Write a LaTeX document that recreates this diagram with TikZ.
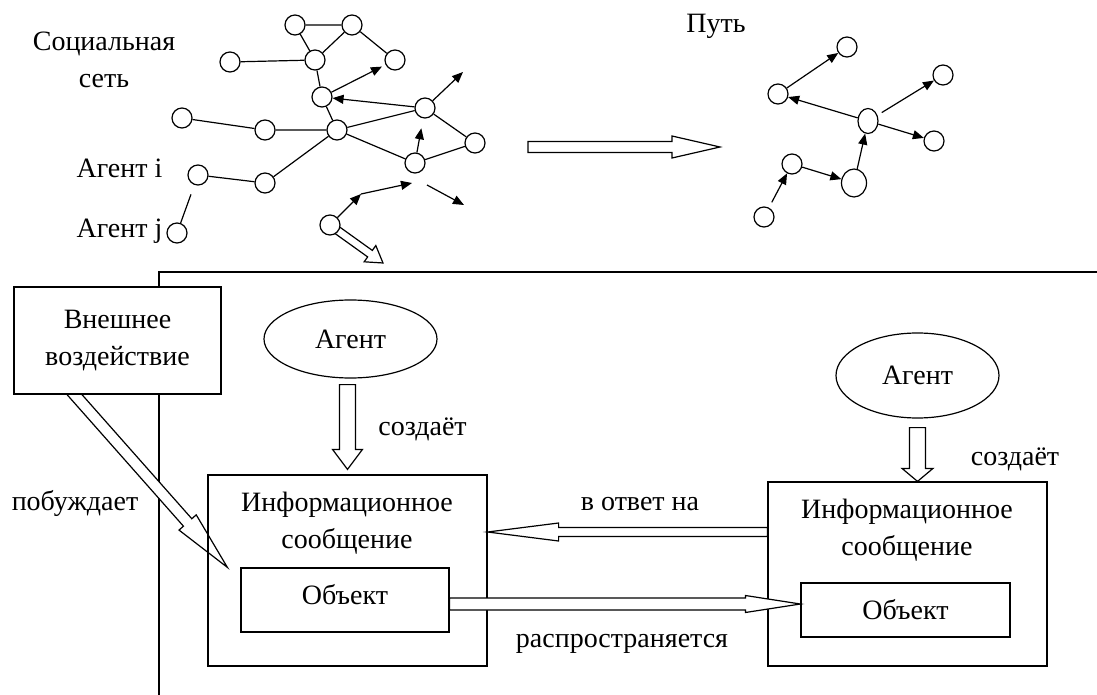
\documentclass[tikz,border=0pt]{standalone}
\usepackage{fontspec}
\setmainfont{Liberation Serif}
\usetikzlibrary{positioning,arrows.meta,calc,shapes.geometric,backgrounds}

% block arrow with open head: start, tip, half shaft, half head, head length
\newcommand\hollowarrow[5]{%
  \path[draw,fill=white] let \p1=($(#2)-(#1)$), \n1={atan2(\y1,\x1)}, \n2={veclen(\x1,\y1)} in
    [shift={(#1)},rotate=\n1] (0pt,-#3pt) -- (\n2-#5pt,-#3pt) -- (\n2-#5pt,-#4pt) -- (\n2+0pt,0pt)
    -- (\n2-#5pt,#4pt) -- (\n2-#5pt,#3pt) -- (0pt,#3pt) -- cycle;}

\begin{document}
\begin{tikzpicture}[x=1pt,y=-1pt,line width=1.2pt,>={Triangle[length=11pt,width=9pt]},
  font=\fontsize{28}{37}\selectfont,
  nd/.style={circle,draw,fill=white,inner sep=0pt,minimum size=20pt},
  lbl/.style={inner sep=0pt,anchor=base},
  box/.style={draw,fill=white,inner sep=0pt},
  agent/.style={ellipse,draw,inner sep=0pt}]
\useasboundingbox (0,0) rectangle (1097,695);
% social network
\node[nd] (s1) at (295,25) {};
\node[nd] (s2) at (352,25) {};
\node[nd] (s3) at (230,62) {};
\node[nd] (s4) at (315,60) {};
\node[nd] (s5) at (395,60) {};
\node[nd] (s6) at (322,97) {};
\node[nd] (s7) at (182,118) {};
\node[nd] (s8) at (265,130) {};
\node[nd] (s9) at (337,130) {};
\node[nd] (s10) at (425,108) {};
\node[nd] (s11) at (475,143) {};
\node[nd] (s12) at (415,163) {};
\node[nd] (s13) at (198,175) {};
\node[nd] (s14) at (265,183) {};
\node[nd] (s15) at (177,233) {};
\node[nd] (s16) at (330,225) {};
\draw (s1) -- (s2) (s3) -- (s4) (s1) -- (s4) (s2) -- (s4) (s2) -- (s5) (s4) -- (s6)
  (s6) -- (s9) (s7) -- (s8) (s8) -- (s9) (s9) -- (s10) (s9) -- (s12) (s9) -- (s14)
  (s14) -- (s13) (s10) -- (s11) (s11) -- (s12);
\draw[shorten <=10pt] (s13) -- (s15);
\draw[->,shorten >=4pt] (s6) -- (s5);
\draw[->] (s10) -- (s6);
\draw[->,shorten >=10pt] (s12) -- (s10);
\coordinate (e1) at (463,72);
\draw[->] (s10) -- (e1);
\coordinate (b1) at (361,194);
\coordinate (b2) at (412,183);
\draw[->] (s16) -- (b1);
\draw[->] (b1) -- (b2);
\coordinate (c1) at (427,185);
\coordinate (c2) at (464,205);
\draw[->] (c1) -- (c2);
\node[inner sep=0pt,anchor=north,align=center] (soc) at (104,31.3) {Социальная\\сеть};
\node[lbl] (ai) at (119.5,178) {Агент i};
\node[lbl] (aj) at (119.5,237) {Агент j};
% path
\node[lbl] (way) at (716,33) {Путь};
\node[nd] (p1) at (847,47) {};
\node[nd] (p2) at (778,94) {};
\node[nd] (p3) at (943,75) {};
\node[nd,ellipse,minimum width=20pt,minimum height=25pt] (p4) at (868,121) {};
\node[nd] (p5) at (934,141) {};
\node[nd] (p6) at (792,164) {};
\node[nd,ellipse,minimum width=25pt,minimum height=28pt] (p7) at (854,183) {};
\node[nd] (p8) at (764,217) {};
\draw[->] (p2) -- (p1);
\draw[->] (p4) -- (p2);
\draw[->,shorten <=5pt] (p4) -- (p3);
\draw[->] (p4) -- (p5);
\draw[->] (p7) -- (p4);
\draw[->] (p6) -- (p7);
\draw[->,shorten <=6pt] (p8) -- (p6);
\coordinate (h1) at (528,147);
\coordinate (h2) at (720,147);
\hollowarrow{h1}{h2}{5.5}{11}{48}
% message model
\node[agent,minimum width=173pt,minimum height=78pt] (ag1) at (350.5,339) {Агент};
\node[draw,minimum width=279pt,minimum height=191pt] (msg1) at (347.5,570.5) {};
\node[inner sep=0pt,anchor=north,align=center] (inf1) at (347,491.7) {Информационное\\сообщение};
\node[box,minimum width=208pt,minimum height=64pt,text depth=12pt] (obj1) at (345,600) {Объект};
\node[agent,minimum width=163pt,minimum height=85pt] (ag2) at (917.5,375.5) {Агент};
\node[draw,minimum width=279pt,minimum height=184pt] (msg2) at (907.5,574) {};
\node[inner sep=0pt,anchor=north,align=center] (inf2) at (907,498.7) {Информационное\\сообщение};
\node[box,minimum width=209pt,minimum height=54pt] (obj2) at (905.5,610) {Объект};
\node[box,minimum width=207pt,minimum height=107pt,align=center] (ext) at (117.5,340.5) {Внешнее\\воздействие};
\node[lbl] (cr1) at (422.5,435) {создаёт};
\node[lbl] (cr2) at (1015,465) {создаёт};
\node[lbl] (mot) at (75,510) {побуждает};
\node[lbl] (resp) at (640,510) {в ответ на};
\node[lbl] (spr) at (622,647) {распространяется};
\coordinate (t1) at (383,263);
\coordinate (g0) at ([xshift=-43pt]ext.south);
\coordinate (g2) at ([xshift=-13pt]obj1.north west);
\coordinate (g1) at ($(g0)!-8pt!(g2)$);
\begin{scope}[on background layer={line width=1.2pt}]
\draw (1097,272) -- (159,272) -- (159,695);
\hollowarrow{g1}{g2}{5.6}{11.5}{60}
\hollowarrow{s16}{t1}{4}{10}{16}
\end{scope}
\coordinate (a1) at ($(ag1.south -| msg1.north)+(0,6)$);
\coordinate (a2) at ($(msg1.north)+(0,-5)$);
\hollowarrow{a1}{a2}{8}{15}{20}
\coordinate (a3) at ($(ag2.south)+(0,9)$);
\coordinate (a4) at (a3 |- msg2.north);
\hollowarrow{a3}{a4}{8}{15.5}{13}
\coordinate (r1) at ([yshift=42pt]msg2.west);
\coordinate (r2) at (r1 -| msg1.east);
\hollowarrow{r1}{r2}{4.5}{9}{71}
\coordinate (o1) at ([yshift=-4pt]obj1.east);
\coordinate (o2) at (o1 -| obj2.west);
\hollowarrow{o1}{o2}{6}{8.5}{55}
\end{tikzpicture}
\end{document}
